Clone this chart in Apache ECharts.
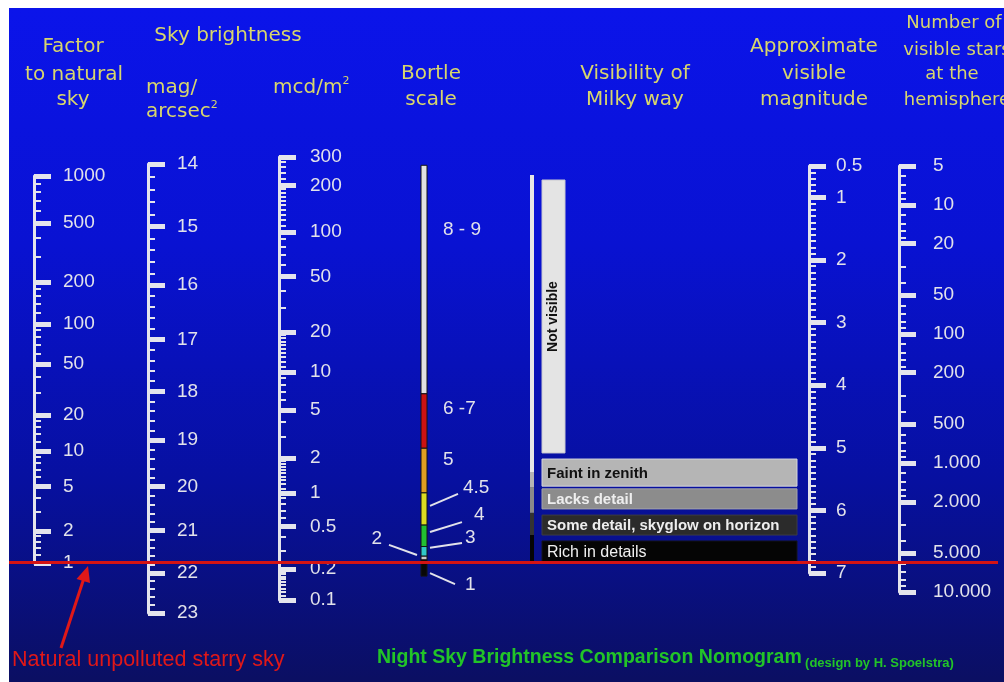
<!DOCTYPE html>
<html>
<head>
<meta charset="utf-8">
<script src="https://cdn.jsdelivr.net/npm/echarts@6.0.0/dist/echarts.min.js"></script>
<style>
html,body{margin:0;padding:0;background:#ffffff;}
#chart{width:1004px;height:682px;}
</style>
</head>
<body>
<div id="chart"></div>
<script>
// ------------------------------------------------------------------
// DATA
// ------------------------------------------------------------------
const NATURAL_SKY_MAG = 21.75;   // mag/arcsec² of the unpolluted sky (factor 1)
const ONE_MCD_MAG = 20.13;       // mag/arcsec² equal to 1 mcd/m²

const factorTicks = [1000, 500, 200, 100, 50, 20, 10, 5, 2, 1];
const factorMinorTicks = [900, 800, 700, 600, 400, 300, 180, 160, 140, 120, 90, 80, 70, 60, 40, 30,
  18, 16, 14, 12, 9, 8, 7, 6, 4, 3, 1.8, 1.6, 1.4, 1.2];

const magTicks = [14, 15, 16, 17, 18, 19, 20, 21, 22, 23];
const magMinorStep = 0.2;

const mcdTicks = [300, 200, 100, 50, 20, 10, 5, 2, 1, 0.5, 0.2, 0.1];
const mcdMinorTicks = [280, 260, 240, 220, 190, 180, 170, 160, 150, 140, 130, 120, 110, 90, 80, 70, 60, 40, 30,
  19, 18, 17, 16, 15, 14, 13, 12, 11, 9, 8, 7, 6, 4, 3, 1.9, 1.8, 1.7, 1.6, 1.5, 1.4, 1.3, 1.2, 1.1,
  0.9, 0.8, 0.7, 0.6, 0.4, 0.3, 0.19, 0.18, 0.17, 0.16, 0.15, 0.14, 0.13, 0.12, 0.11];

const visMagTicks = [0.5, 1, 2, 3, 4, 5, 6, 7];
const visMagMinorStep = 0.1;

const starTicks = [5, 10, 20, 50, 100, 200, 500, 1000, 2000, 5000, 10000];
const starMinorTicks = [6, 7, 8, 9, 12, 14, 16, 18, 30, 40, 60, 70, 80, 90, 120, 140, 160, 180, 300, 400,
  600, 700, 800, 900, 1200, 1400, 1600, 1800, 3000, 4000, 6000, 7000, 8000, 9000];

// Bortle classes: sky-brightness range (mag/arcsec²) and where each label sits
const bortleClasses = ['8 - 9', '6 -7', '5', '4.5', '4', '3', '2', '1'];
const bortleFrom    = [14.02, 18.05, 19.17, 20.14, 20.87, 21.37, 21.60, 21.69];
const bortleTo      = [18.05, 19.17, 20.14, 20.87, 21.37, 21.60, 21.69, 22.08];
const bortleLabelAt = [15.06, 18.36, 19.42, 20.03, 20.64, 21.17, 21.19, 22.30];
const bortleLeaderAt = [null, null, null, 20.43, 21.03, 21.40, 21.57, 22.01];

// Visibility of the Milky Way
const milkyWayZones = ['Not visible', 'Faint in zenith', 'Lacks detail',
  'Some detail, skyglow on horizon', 'Rich in details'];
const milkyWayFrom    = [14.25, 19.40, 20.05, 20.64, 21.24];
const milkyWayTo      = [19.27, 19.99, 20.50, 21.10, 21.74];
const milkyWayBarFrom = [14.17, 19.68, 20.01, 20.59, 21.10];
const milkyWayBarTo   = [19.68, 20.01, 20.59, 21.10, 21.74];

// ------------------------------------------------------------------
// STYLES
// ------------------------------------------------------------------
const AX = '#e4e4ec';
const LABEL = '#e2e2ea';
const HEAD = '#d8d66c';
const FONT = '"Liberation Sans", Arial, sans-serif';
const HFONT = '"DejaVu Sans", Verdana, sans-serif';
const bortleColors = ['#e2e2e2', '#cc1212', '#e0a022', '#dcdc22', '#22c032', '#30c8c8', '#c8c8c8', '#080808'];
const bortleLabelSide = ['r', 'r', 'r', 'r', 'r', 'r', 'l', 'r'];
const bortleLabelDx = [16, 16, 16, 36, 47, 38, -39, 38];
const bortleLeaderEnd = [null, null, null, [-5, 6], [-12, 7], [-3, 5], [7, 6], [-10, -1]];
const mwBarColors = ['#e6e6e6', '#b4b4b4', '#8a8a8a', '#333333', '#050505'];
const mwFill = ['#e4e4e4', '#b5b5b5', '#8c8c8c', '#2b2b2b', '#050505'];
const mwStroke = ['#c8c8d0', '#d4d4dc', '#a4a4ac', '#3c3c44', '#14141c'];
const mwTextColor = ['#111111', '#111111', '#eeeeee', '#eeeeee', '#f0f0f0'];
const mwTextFont = ['bold 14px ' + FONT, 'bold 15px ' + FONT, 'bold 15px ' + FONT, 'bold 15px ' + FONT, '16px ' + FONT];

// ------------------------------------------------------------------
// SCALES: the nomogram's brightness axis is drawn on a log-magnitude scale
// ------------------------------------------------------------------
const U = m => Math.log(m);
const factorToMag = f => NATURAL_SKY_MAG - 2.5 * Math.log10(f);
const mcdToMag = v => ONE_MCD_MAG - 2.5 * Math.log10(v);
const EPS = 1e-9;

function stepTicks(a, b, step, majors) {
  const out = [];
  const n = Math.round((b - a) / step);
  for (let k = 1; k < n; k++) {
    const v = +(a + k * step).toFixed(4);
    if (!majors.some(m => Math.abs(m - v) < 1e-6)) out.push(v);
  }
  return out;
}
function thousands(n) { return String(n).replace(/\B(?=(\d{3})+(?!\d))/g, '.'); }
function nearestLabel(v, pos, labels) {
  let b = 0, d = Infinity;
  pos.forEach((p, i) => { const dd = Math.abs(p - v); if (dd < d) { d = dd; b = i; } });
  return labels[b];
}

const grids = [], xAxes = [], yAxes = [], series = [];
function addGrid(g) {
  grids.push(Object.assign({ containLabel: false, outerBoundsMode: 'none', show: false }, g));
  const gi = grids.length - 1;
  xAxes.push({ gridIndex: gi, type: 'value', min: 0, max: 1, show: false, position: 'bottom', axisLine: { onZero: false } });
  return gi;
}
function addScale(gi, min, max, majorPos, labels, minorPos, margin) {
  yAxes.push({
    gridIndex: gi, type: 'value', position: 'left', min: min - EPS, max: max + EPS, inverse: true,
    axisLine: { show: true, onZero: false, lineStyle: { color: AX, width: 3 } },
    axisTick: { show: true, inside: true, length: 17, customValues: majorPos, lineStyle: { color: AX, width: 5 } },
    axisLabel: {
      show: true, inside: true, margin: margin, customValues: majorPos, color: LABEL,
      fontSize: 19, fontFamily: FONT, hideOverlap: false,
      formatter: v => nearestLabel(v, majorPos, labels)
    },
    splitLine: { show: false }
  });
  yAxes.push({
    gridIndex: gi, type: 'value', position: 'left', min: min - EPS, max: max + EPS, inverse: true,
    axisLine: { show: false, onZero: false },
    axisTick: { show: true, inside: true, length: 7, customValues: minorPos, lineStyle: { color: AX, width: 2 } },
    axisLabel: { show: false },
    splitLine: { show: false }
  });
}
function addHiddenY(gi) {
  yAxes.push({ gridIndex: gi, type: 'value', min: U(14), max: U(23), inverse: true, show: false,
    axisLine: { onZero: false } });
  return yAxes.length - 1;
}

// Factor to natural sky
let g = addGrid({ left: 34, top: 176, width: 80, height: 387 });
addScale(g, U(factorToMag(1000)), U(factorToMag(1)),
  factorTicks.map(f => U(factorToMag(f))), factorTicks.map(String),
  factorMinorTicks.map(f => U(factorToMag(f))), 29);

// mag/arcsec²
g = addGrid({ left: 148, top: 164, width: 80, height: 449 });
addScale(g, U(14), U(23), magTicks.map(U), magTicks.map(String),
  stepTicks(14, 23, magMinorStep, magTicks).map(U), 29);

// mcd/m²
g = addGrid({ left: 279, top: 157, width: 80, height: 443 });
addScale(g, U(mcdToMag(300)), U(mcdToMag(0.1)),
  mcdTicks.map(v => U(mcdToMag(v))), mcdTicks.map(String),
  mcdMinorTicks.map(v => U(mcdToMag(v))), 31);

// Approximate visible magnitude
g = addGrid({ left: 809, top: 166, width: 80, height: 407 });
addScale(g, 0.5, 7, visMagTicks, visMagTicks.map(String),
  stepTicks(0.5, 7, visMagMinorStep, visMagTicks), 27);

// Number of visible stars (logarithmic)
g = addGrid({ left: 899, top: 166, width: 90, height: 426 });
addScale(g, Math.log10(5), Math.log10(10000), starTicks.map(Math.log10), starTicks.map(thousands),
  starMinorTicks.map(Math.log10), 34);

// Bortle bar
const gB = addGrid({ left: 421, top: 164, width: 6, height: 449 });
const yB = addHiddenY(gB);
series.push({
  type: 'custom', name: 'Bortle scale', xAxisIndex: gB, yAxisIndex: yB, clip: false, silent: true,
  encode: { x: 0, y: [1, 2] },
  data: bortleClasses.map((c, i) => [0, U(bortleFrom[i]), U(bortleTo[i]), i]),
  renderItem(params, api) {
    const i = api.value(3);
    const p1 = api.coord([0, api.value(1)]);
    const p2 = api.coord([1, api.value(2)]);
    return { type: 'rect', shape: { x: p1[0], y: p1[1], width: p2[0] - p1[0], height: p2[1] - p1[1] },
      style: { fill: bortleColors[i], stroke: '#151515', lineWidth: 1 } };
  }
});
series.push({
  type: 'custom', name: 'Bortle labels', xAxisIndex: gB, yAxisIndex: yB, clip: false, silent: true,
  encode: { x: 0, y: 1 },
  data: bortleClasses.map((c, i) => [0, U(bortleLabelAt[i]), i]),
  renderItem(params, api) {
    const i = api.value(2);
    const left = api.coord([0, api.value(1)]);
    const right = api.coord([1, api.value(1)]);
    const isLeft = bortleLabelSide[i] === 'l';
    const tx = (isLeft ? left[0] : right[0]) + bortleLabelDx[i];
    const ty = left[1];
    const children = [{
      type: 'text',
      style: { x: tx, y: ty, text: bortleClasses[i], fill: LABEL, font: '19px ' + FONT,
        align: isLeft ? 'right' : 'left', verticalAlign: 'middle' }
    }];
    if (bortleLeaderAt[i] != null) {
      const a = api.coord([isLeft ? 0 : 1, U(bortleLeaderAt[i])]);
      const sx = a[0] + (isLeft ? -4 : 3);
      const e = bortleLeaderEnd[i];
      children.push({ type: 'line', shape: { x1: sx, y1: a[1], x2: tx + e[0], y2: ty + e[1] },
        style: { stroke: LABEL, lineWidth: 2 } });
    }
    return { type: 'group', children };
  }
});

// Milky Way thin bar
const gM = addGrid({ left: 530, top: 164, width: 4, height: 449 });
const yM = addHiddenY(gM);
series.push({
  type: 'custom', name: 'Milky Way bar', xAxisIndex: gM, yAxisIndex: yM, clip: false, silent: true,
  encode: { x: 0, y: [1, 2] },
  data: milkyWayZones.map((z, i) => [0, U(milkyWayBarFrom[i]), U(milkyWayBarTo[i]), i]),
  renderItem(params, api) {
    const i = api.value(3);
    const p1 = api.coord([0, api.value(1)]);
    const p2 = api.coord([1, api.value(2)]);
    return { type: 'rect', shape: { x: p1[0], y: p1[1], width: p2[0] - p1[0], height: p2[1] - p1[1] },
      style: { fill: mwBarColors[i] } };
  }
});

function zoneRender(params, api) {
  const i = api.value(3);
  const p1 = api.coord([0, api.value(1)]);
  const p2 = api.coord([1, api.value(2)]);
  const w = p2[0] - p1[0], h = p2[1] - p1[1];
  const children = [{ type: 'rect', shape: { x: p1[0], y: p1[1], width: w, height: h },
    style: { fill: mwFill[i], stroke: mwStroke[i], lineWidth: 1 } }];
  if (i === 0) {
    children.push({ type: 'text', x: p1[0] + w / 2, y: p1[1] + h / 2, rotation: Math.PI / 2,
      style: { text: milkyWayZones[i], fill: mwTextColor[i], font: mwTextFont[i], align: 'center', verticalAlign: 'middle' } });
  } else {
    children.push({ type: 'text',
      style: { x: p1[0] + 5, y: p1[1] + h / 2 + 1, text: milkyWayZones[i], fill: mwTextColor[i], font: mwTextFont[i],
        align: 'left', verticalAlign: 'middle' } });
  }
  return { type: 'group', children };
}
// "Not visible" box (narrow)
const gN = addGrid({ left: 542, top: 164, width: 23, height: 449 });
const yN = addHiddenY(gN);
series.push({
  type: 'custom', name: 'Milky Way (not visible)', xAxisIndex: gN, yAxisIndex: yN, clip: false, silent: true,
  encode: { x: 0, y: [1, 2] },
  data: [0].map(i => [0, U(milkyWayFrom[i]), U(milkyWayTo[i]), i]),
  renderItem: zoneRender
});
// visibility boxes (wide)
const gZ = addGrid({ left: 542, top: 164, width: 255, height: 449 });
const yZ = addHiddenY(gZ);
series.push({
  type: 'custom', name: 'Milky Way visibility', xAxisIndex: gZ, yAxisIndex: yZ, clip: false, silent: true,
  encode: { x: 0, y: [1, 2] },
  data: [1, 2, 3, 4].map(i => [0, U(milkyWayFrom[i]), U(milkyWayTo[i]), i]),
  renderItem: zoneRender
});

// Natural sky line across the whole nomogram
const gR = addGrid({ left: 9, top: 164, width: 989, height: 449 });
const yR = addHiddenY(gR);
series.push({
  type: 'line', name: 'Natural unpolluted starry sky', xAxisIndex: gR, yAxisIndex: yR, silent: true,
  symbol: 'none', z: 5, lineStyle: { color: '#d41414', width: 3 },
  data: [[0, U(NATURAL_SKY_MAG)], [1, U(NATURAL_SKY_MAG)]]
});

// ------------------------------------------------------------------
// Headers & annotations
// ------------------------------------------------------------------
function head(text, x, y, size, align) {
  return { type: 'text', x: x, y: y, z: 10, silent: true,
    style: { text: text, fill: HEAD, font: (size || 20) + 'px ' + HFONT, align: align || 'center', verticalAlign: 'middle' } };
}
const supRich = {
  a: { fontSize: 20, fontFamily: HFONT, fill: HEAD, lineHeight: 24 },
  s: { fontSize: 11, fontFamily: HFONT, fill: HEAD, lineHeight: 12, verticalAlign: 'top' }
};
const elements = [
  { type: 'rect', z: -100, silent: true, shape: { x: 9, y: 8, width: 995, height: 674 },
    style: { fill: { type: 'linear', x: 0, y: 0, x2: 0, y2: 1, colorStops: [
      { offset: 0, color: '#0b14ea' }, { offset: 0.35, color: '#0912d2' },
      { offset: 0.7, color: '#0710a0' }, { offset: 1, color: '#0b0f62' } ] } } },
  head('Factor', 73, 47), head('to natural', 74, 75), head('sky', 73, 100),
  head('Sky brightness', 228, 36),
  head('mag/', 146, 88, 20, 'left'),
  { type: 'text', x: 146, y: 112, z: 10, silent: true,
    style: { text: '{a|arcsec}{s|2}', rich: supRich, align: 'left', verticalAlign: 'middle' } },
  { type: 'text', x: 273, y: 88, z: 10, silent: true,
    style: { text: '{a|mcd/m}{s|2}', rich: supRich, align: 'left', verticalAlign: 'middle' } },
  head('Bortle', 431, 74), head('scale', 431, 100),
  head('Visibility of', 635, 74), head('Milky way', 635, 100),
  head('Approximate', 814, 47), head('visible', 814, 74), head('magnitude', 814, 100),
  head('Number of', 954, 23, 18), head('visible stars', 957, 50, 18), head('at the', 952, 74, 18),
  head('hemisphere', 957, 100, 18),
  { type: 'text', x: 12, y: 660, z: 10, silent: true,
    style: { text: 'Natural unpolluted starry sky', fill: '#e01818', font: '21.5px ' + FONT, align: 'left', verticalAlign: 'middle' } },
  { type: 'line', z: 10, silent: true, shape: { x1: 61, y1: 648, x2: 85, y2: 575 },
    style: { stroke: '#e01818', lineWidth: 3 } },
  { type: 'polygon', z: 10, silent: true, shape: { points: [[88, 566], [90, 583], [76.5, 579]] },
    style: { fill: '#e01818' } },
  { type: 'text', x: 377, y: 658, z: 10, silent: true,
    style: { text: '{t|Night Sky Brightness Comparison Nomogram} {s|(design by H. Spoelstra)}',
      align: 'left', verticalAlign: 'middle',
      rich: {
        t: { fontSize: 19.5, fontWeight: 'bold', fontFamily: FONT, fill: '#22c428', lineHeight: 24 },
        s: { fontSize: 13, fontWeight: 'bold', fontFamily: FONT, fill: '#22c428', lineHeight: 19, verticalAlign: 'bottom' }
      } } }
];

const chart = echarts.init(document.getElementById('chart'), null, { renderer: 'canvas' });
chart.setOption({
  backgroundColor: '#ffffff',
  animation: false,
  grid: grids,
  xAxis: xAxes,
  yAxis: yAxes,
  series: series,
  graphic: { elements: elements }
});
</script>
</body>
</html>
